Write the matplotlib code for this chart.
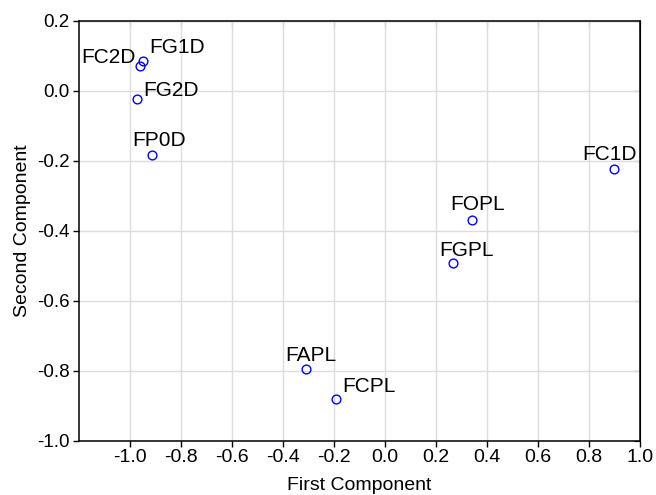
import matplotlib.pyplot as plt

names = ['FC2D', 'FG1D', 'FG2D', 'FP0D', 'FC1D', 'FOPL', 'FGPL', 'FAPL', 'FCPL']
first = [-0.962, -0.948, -0.974, -0.913, 0.897, 0.343, 0.266, -0.311, -0.192]
second = [0.071, 0.086, -0.024, -0.182, -0.222, -0.369, -0.492, -0.793, -0.880]

# label offsets in pixels (left end of text, baseline)
offsets = {
    'FC2D': (-58, 3), 'FG1D': (6, 8), 'FG2D': (7, 3), 'FP0D': (-20, 9),
    'FC1D': (-31, 9), 'FOPL': (-22, 10), 'FGPL': (-14, 7), 'FAPL': (-20, 8),
    'FCPL': (6, 7),
}

plt.rcParams['font.family'] = ['Liberation Sans', 'DejaVu Sans']

fig = plt.figure(figsize=(6.56, 4.95), dpi=100)
ax = fig.add_axes([0.1204, 0.1091, 0.8552, 0.8485])

ax.plot(first, second, 'o', mfc='none', mec='#0000ff', ms=6.3, mew=1.0, zorder=3)
for n, x, y in zip(names, first, second):
    ax.annotate(n, (x, y), xytext=offsets[n], textcoords='offset pixels',
                ha='left', va='baseline', fontsize=15)

ax.set_xlim(-1.2, 1.0)
ax.set_ylim(-1.0, 0.2)
ax.set_xticks([-1.0, -0.8, -0.6, -0.4, -0.2, 0.0, 0.2, 0.4, 0.6, 0.8, 1.0])
ax.set_yticks([-1.0, -0.8, -0.6, -0.4, -0.2, 0.0, 0.2])
ax.xaxis.set_major_formatter(plt.FormatStrFormatter('%.1f'))
ax.yaxis.set_major_formatter(plt.FormatStrFormatter('%.1f'))
ax.grid(True, color='#dcdcdc', lw=1.0)
ax.set_axisbelow(True)
ax.tick_params(direction='out', length=4, width=1)
ax.tick_params(axis='x', labelsize=14, pad=1.5)
ax.tick_params(axis='y', labelsize=13.5, pad=3)
for s in ax.spines.values():
    s.set_linewidth(1.1)

top = ax.secondary_xaxis('top')
top.set_xticks(ax.get_xticks())
top.tick_params(direction='in', length=4, labeltop=False)
right = ax.secondary_yaxis('right')
right.set_yticks(ax.get_yticks())
right.tick_params(direction='in', length=4, labelright=False)

ax.set_xlabel('First Component', fontsize=14, labelpad=8.5)
ax.set_ylabel('Second Component', fontsize=14, labelpad=4)

fig.savefig('out.png', dpi=100)
